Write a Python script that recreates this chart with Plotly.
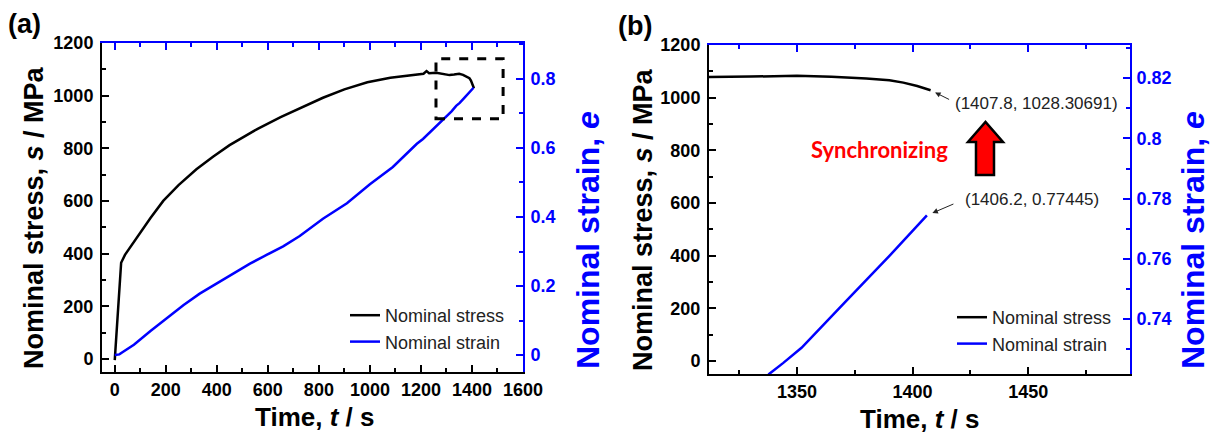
import plotly.graph_objects as go

# ---- measured data -------------------------------------------------------
# nominal stress vs time (s, MPa)
t_stress = [0, 25, 40, 85, 140, 190, 250, 320, 385, 450, 520, 560, 650, 725,
            816, 900, 990, 1080, 1150, 1210, 1222, 1232, 1260, 1290,
            1312, 1330, 1350, 1365, 1380, 1390, 1396, 1402, 1407.8]
stress = [-5, 365, 395, 460, 535, 600, 660, 720, 768, 812, 852, 874, 918, 952,
          992, 1024, 1051, 1068, 1077, 1083, 1093, 1085, 1087, 1081,
          1078, 1080, 1083, 1079, 1073, 1066, 1057, 1044, 1028.30691]

# nominal strain vs time (s, -)
t_strain = [0, 18, 30, 75, 140, 204, 270, 333, 400, 463, 530, 595, 660, 725,
            816, 910, 1000, 1090, 1184, 1208, 1250, 1286, 1320, 1338, 1344,
            1352, 1370, 1390, 1406.2]
strain = [0.0, 0.002, 0.008, 0.03, 0.07, 0.108, 0.145, 0.178, 0.208, 0.237,
          0.265, 0.29, 0.315, 0.345, 0.395, 0.44, 0.495, 0.545, 0.612, 0.626,
          0.655, 0.68, 0.706, 0.7218, 0.7254, 0.7305, 0.745, 0.761, 0.77445]

stress_name = "Nominal stress"
strain_name = "Nominal strain"

# ---- page geometry helpers ---------------------------------------------
W, H = 1214, 434


def px(x):
    return x / W


def py(y):
    return 1 - y / H


BLUE = "#0000ff"
BLACK = "#000000"
FONT = "Liberation Sans"

A_X = [102, 523]
A_Y = [43, 372]
B_X = [709, 1130]
B_Y = [45, 374]

fig = go.Figure()

# panel (a)
fig.add_trace(go.Scatter(x=t_stress, y=stress, mode="lines", name=stress_name,
                         line=dict(color=BLACK, width=2.5),
                         xaxis="x", yaxis="y", legend="legend"))
fig.add_trace(go.Scatter(x=t_strain, y=strain, mode="lines", name=strain_name,
                         line=dict(color=BLUE, width=2.5),
                         xaxis="x", yaxis="y2", legend="legend"))
# empty traces so the top (blue) frame axes are drawn
fig.add_trace(go.Scatter(x=[], y=[], xaxis="x3", yaxis="y", showlegend=False))
# panel (b)
fig.add_trace(go.Scatter(x=t_stress, y=stress, mode="lines", name=stress_name,
                         line=dict(color=BLACK, width=2.5),
                         xaxis="x2", yaxis="y3", legend="legend2"))
fig.add_trace(go.Scatter(x=t_strain, y=strain, mode="lines", name=strain_name,
                         line=dict(color=BLUE, width=2.5),
                         xaxis="x2", yaxis="y4", legend="legend2"))
fig.add_trace(go.Scatter(x=[], y=[], xaxis="x4", yaxis="y3", showlegend=False))

tickfont_k = dict(family=FONT, size=18, color=BLACK, weight="bold")
tickfont_b = dict(family=FONT, size=18, color=BLUE, weight="bold")


def axis(color, rng, dtick, minor, domain=None, **kw):
    d = dict(range=rng, dtick=dtick, tick0=0, showgrid=False, zeroline=False,
             automargin=False,
             showline=True, linecolor=color, linewidth=2,
             ticks="inside", ticklen=7, tickwidth=1.5, tickcolor=color,
             minor=dict(dtick=minor, ticks="inside", ticklen=4, tickwidth=1.5,
                        tickcolor=color, showgrid=False),
             tickfont=tickfont_k if color == BLACK else tickfont_b)
    if domain is not None:
        d["domain"] = domain
    d.update(kw)
    return d


legend_font = dict(family=FONT, size=18, color="#222")

fig.update_layout(
    width=W, height=H,
    margin=dict(l=0, r=0, t=0, b=0, pad=0, autoexpand=False),
    paper_bgcolor="white", plot_bgcolor="white",
    # panel (a)
    xaxis=axis(BLACK, [-50, 1600], 200, 100, [px(A_X[0]), px(A_X[1])],
               anchor="y", ticklabelstandoff=0),
    yaxis=axis(BLACK, [-50, 1200], 200, 100, [py(A_Y[1]), py(A_Y[0])],
               anchor="x", ticklabelstandoff=3),
    yaxis2=axis(BLUE, [-0.049, 0.904], 0.2, 0.1, None,
                overlaying="y", side="right", anchor="x", ticklabelstandoff=2),
    xaxis3=axis(BLUE, [-50, 1600], 200, 100, None,
                overlaying="x", side="top", anchor="y", showticklabels=False),
    # panel (b)
    xaxis2=axis(BLACK, [1312, 1494], 50, 25, [px(B_X[0]), px(B_X[1])],
                anchor="y3", ticklabelstandoff=0),
    yaxis3=axis(BLACK, [-50, 1200], 200, 100, [py(B_Y[1]), py(B_Y[0])],
                anchor="x2", ticklabelstandoff=3),
    yaxis4=axis(BLUE, [0.7218, 0.831], 0.02, 0.01, None,
                overlaying="y3", side="right", anchor="x2", ticklabelstandoff=1),
    xaxis4=axis(BLUE, [1312, 1494], 50, 25, None,
                overlaying="x2", side="top", anchor="y3", showticklabels=False),
    legend=dict(x=px(345), y=py(297), xanchor="left", yanchor="top",
                bgcolor="rgba(0,0,0,0)", font=legend_font, tracegroupgap=0),
    legend2=dict(x=px(952), y=py(299), xanchor="left", yanchor="top",
                 bgcolor="rgba(0,0,0,0)", font=legend_font, tracegroupgap=0),
    showlegend=True,
)

ann = []


def label(text, x, y, size, color=BLACK, angle=0):
    ann.append(dict(text=text, x=px(x), y=py(y), xref="paper", yref="paper",
                    xanchor="center", yanchor="middle", showarrow=False,
                    textangle=angle, font=dict(family=FONT, size=size, color=color)))


# axis titles
label("<b>Time, <i>t</i> / s</b>", 314, 417, 26)
label("<b>Time, <i>t</i> / s</b>", 919, 419, 26)
label("<b>Nominal stress, <i>s</i> / MPa</b>", 34, 218, 27, angle=-90)
label("<b>Nominal stress, <i>s</i> / MPa</b>", 643, 220, 27, angle=-90)
label("<b>Nominal strain, <i>e</i></b>", 588, 240, 32, BLUE, -90)
label("<b>Nominal strain, <i>e</i></b>", 1193, 240, 32, BLUE, -90)
# panel letters
label("<b>(a)</b>", 25, 24, 27)
label("<b>(b)</b>", 635, 26, 27)

# end-point callouts in panel (b)
t_end_s, s_end = t_stress[-1], stress[-1]
t_end_e, e_end = t_strain[-1], strain[-1]
ann.append(dict(text=f"({t_end_s}, {s_end})", x=px(953), y=py(104),
                xref="paper", yref="paper", xanchor="left", yanchor="middle",
                showarrow=False, font=dict(family=FONT, size=17, color="#222")))
ann.append(dict(text=f"({t_end_e}, {e_end})", x=px(963), y=py(199),
                xref="paper", yref="paper", xanchor="left", yanchor="middle",
                showarrow=False, font=dict(family=FONT, size=17, color="#222")))
ann.append(dict(text="", x=t_end_s, y=s_end, xref="x2", yref="y3",
                ax=20, ay=10, showarrow=True, arrowhead=2, arrowsize=1.1,
                arrowwidth=1, arrowcolor="#222", standoff=5))
ann.append(dict(text="", x=t_end_e, y=e_end, xref="x2", yref="y4",
                ax=28, ay=-12, showarrow=True, arrowhead=2, arrowsize=1.1,
                arrowwidth=1, arrowcolor="#222", standoff=6))
# synchronizing note
ann.append(dict(text="<b>Synchronizing</b>", x=px(879), y=py(150),
                xref="paper", yref="paper", xanchor="center", yanchor="middle",
                showarrow=False, font=dict(family="Lato", size=22, color="#ff0000")))
fig.update_layout(annotations=ann)

# zoom window marker in panel (a)
fig.add_shape(type="rect", xref="x", yref="y", x0=1259, x1=1522, y0=912, y1=1140,
              line=dict(color=BLACK, width=3, dash="dash"), fillcolor="rgba(0,0,0,0)")

# red block arrow pointing up
pts = [(976, 175), (994, 175), (994, 142), (1003, 142), (985.5, 122),
       (968, 142), (976, 142)]
path = "M " + " L ".join(f"{px(x):.5f},{py(y):.5f}" for x, y in pts) + " Z"
fig.add_shape(type="path", xref="paper", yref="paper", path=path,
              fillcolor="#ff0000", line=dict(color=BLACK, width=2.5))

fig.write_html("out.html")
